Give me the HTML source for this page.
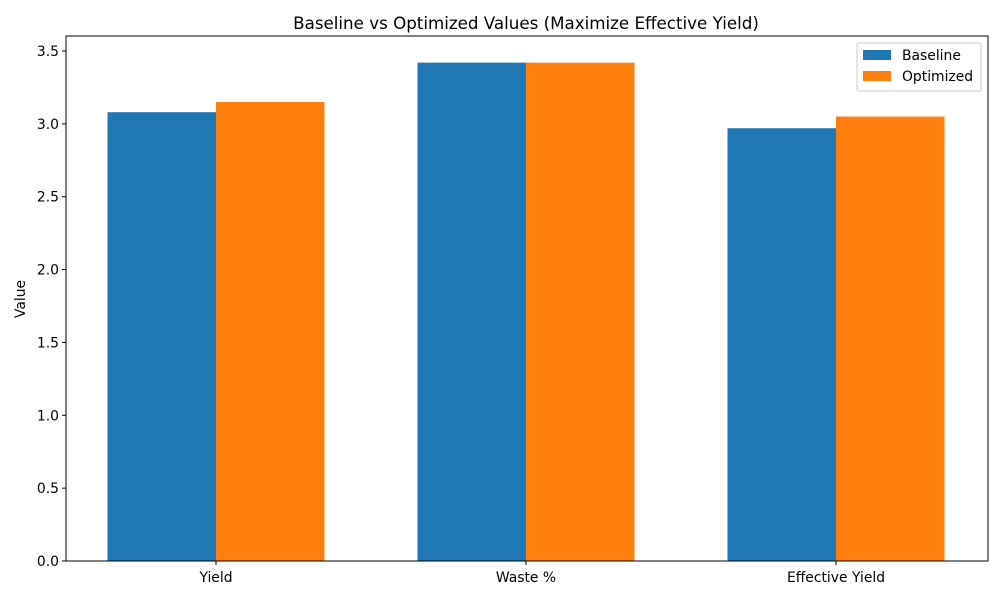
<!DOCTYPE html>
<html><head><meta charset="utf-8"><style>
body{margin:0;background:#fff;font-family:"Liberation Sans","DejaVu Sans",sans-serif;}
svg text{font-family:"DejaVu Sans","Liberation Sans",sans-serif;}
</style></head><body>
<svg id="chart" width="1000" height="600">
<rect width="1000" height="600" fill="#fff"/>
<text x="526" y="29" text-anchor="middle" font-size="16.7" fill="#000">Baseline vs Optimized Values (Maximize Effective Yield)</text>
<text transform="translate(25,299) rotate(-90)" text-anchor="middle" font-size="13.9">Value</text>
<g id="bars"></g>
<g id="axes"></g>
<g>
<rect x="857" y="43" width="124" height="48" fill="#fff" stroke="#ccc" rx="2"/>
<rect x="863" y="50" width="28" height="10" fill="#1f77b4"/>
<text x="902" y="60" font-size="13.9">Baseline</text>
<rect x="863" y="71" width="28" height="10" fill="#ff7f0e"/>
<text x="902" y="81" font-size="13.9">Optimized</text>
</g>
</svg>
<script>
const categories = ["Yield", "Waste %", "Effective Yield"];
const baseline = [3.08, 3.42, 2.97];
const optimized = [3.15, 3.42, 3.05];
const yTicks = [0, 0.5, 1.0, 1.5, 2.0, 2.5, 3.0, 3.5];
const NS = "http://www.w3.org/2000/svg";
const L = 66, R = 988, T = 36, B = 561;
const y = v => B - v * (510 / 3.5);
const x = v => 216 + v * 310;
function mk(tag, attrs, parent) {
  const e = document.createElementNS(NS, tag);
  for (const k in attrs) e.setAttribute(k, attrs[k]);
  parent.appendChild(e);
  return e;
}
const bars = document.getElementById("bars");
const axes = document.getElementById("axes");
const w = 0.35;
categories.forEach((c, i) => {
  const b = mk("rect", {x: x(i - w), y: y(baseline[i]), width: x(w) - x(0), height: B - y(baseline[i]), fill: "#1f77b4"}, bars);
  
  
  const o = mk("rect", {x: x(i), y: y(optimized[i]), width: x(w) - x(0), height: B - y(optimized[i]), fill: "#ff7f0e"}, bars);
  
  
  mk("line", {x1: x(i), x2: x(i), y1: B, y2: B + 4, stroke: "#000"}, axes);
  const t = mk("text", {x: x(i), y: B + 21, "text-anchor": "middle", "font-size": 13.9}, axes);
  t.textContent = c;
  
  
});
yTicks.forEach(v => {
  mk("line", {x1: L - 4, x2: L, y1: y(v), y2: y(v), stroke: "#000"}, axes);
  const t = mk("text", {x: L - 7, y: y(v) + 5, "text-anchor": "end", "font-size": 13.9}, axes);
  t.textContent = v.toFixed(1);
  
  
});
const frame = mk("rect", {x: L, y: T, width: R - L, height: B - T, fill: "none", stroke: "#000", "stroke-width": 1}, axes);


</script>
</body></html>
